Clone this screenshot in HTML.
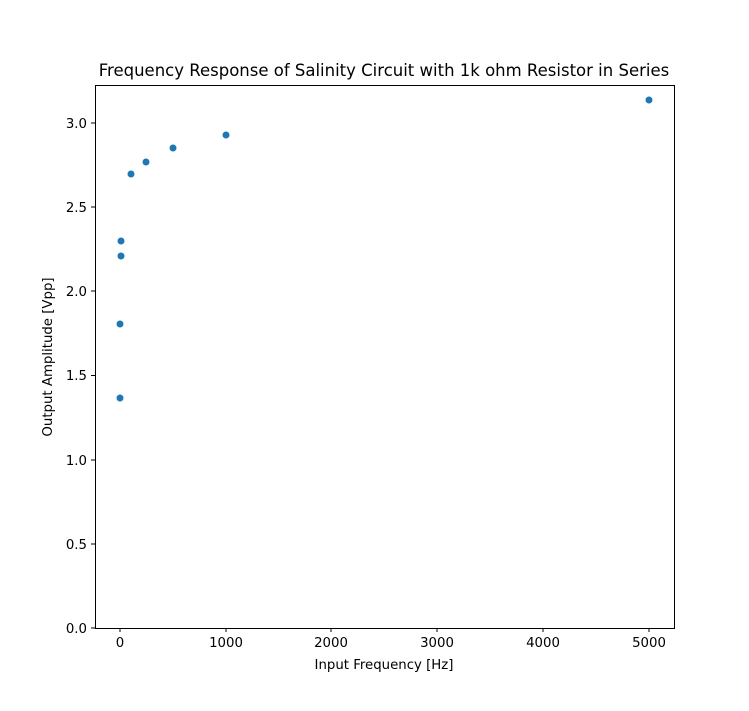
<!DOCTYPE html>
<html><head><style>body{margin:0;background:#fff}</style></head><body>
<svg width="749" height="706" xmlns="http://www.w3.org/2000/svg" font-family="DejaVu Sans, sans-serif">
<rect width="749" height="706" fill="#fff"/>
<rect x="95.5" y="85.5" width="579" height="543" fill="none" stroke="#000" stroke-width="1"/>
<g stroke="#000" stroke-width="1">
<line x1="120" y1="628" x2="120" y2="632"/><line x1="226" y1="628" x2="226" y2="632"/><line x1="331" y1="628" x2="331" y2="632"/><line x1="437" y1="628" x2="437" y2="632"/><line x1="543" y1="628" x2="543" y2="632"/><line x1="649" y1="628" x2="649" y2="632"/>
<line x1="91" y1="628" x2="95" y2="628"/><line x1="91" y1="544" x2="95" y2="544"/><line x1="91" y1="460" x2="95" y2="460"/><line x1="91" y1="375.5" x2="95" y2="375.5"/><line x1="91" y1="291" x2="95" y2="291"/><line x1="91" y1="207" x2="95" y2="207"/><line x1="91" y1="123" x2="95" y2="123"/>
</g>
<g font-size="13.3" text-anchor="middle" fill="#000">
<text x="120" y="647">0</text><text x="226" y="647">1000</text><text x="331" y="647">2000</text><text x="437" y="647">3000</text><text x="543" y="647">4000</text><text x="649" y="647">5000</text>
</g>
<g font-size="13.3" text-anchor="end" fill="#000">
<text x="87" y="633">0.0</text><text x="87" y="549">0.5</text><text x="87" y="465">1.0</text><text x="87" y="380">1.5</text><text x="87" y="296">2.0</text><text x="87" y="212">2.5</text><text x="87" y="128">3.0</text>
</g>
<text x="384" y="669" font-size="13.3" text-anchor="middle">Input Frequency [Hz]</text>
<text transform="translate(52,357) rotate(-90)" font-size="13.3" text-anchor="middle">Output Amplitude [Vpp]</text>
<text x="384" y="76" font-size="16.5" text-anchor="middle">Frequency Response of Salinity Circuit with 1k ohm Resistor in Series</text>
<g fill="#1f77b4">
<circle cx="120" cy="398" r="3.5"/><circle cx="120" cy="324" r="3.5"/><circle cx="121" cy="256" r="3.5"/><circle cx="121" cy="241" r="3.5"/><circle cx="131" cy="174" r="3.5"/><circle cx="146" cy="162" r="3.5"/><circle cx="173" cy="148" r="3.5"/><circle cx="226" cy="135" r="3.5"/><circle cx="649" cy="100" r="3.5"/>
</g>
</svg>
</body></html>
